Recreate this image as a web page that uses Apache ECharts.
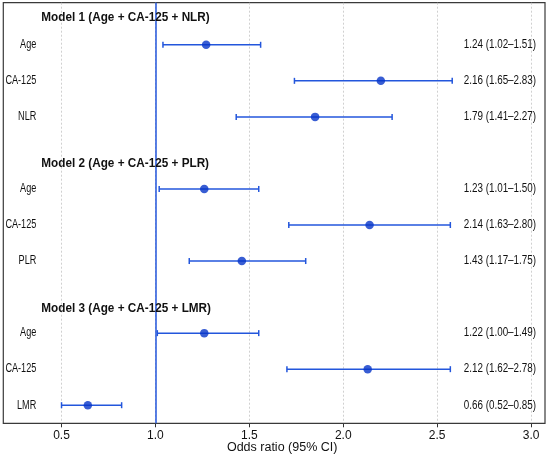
<!DOCTYPE html>
<html>
<head>
<meta charset="utf-8">
<script src="https://cdn.jsdelivr.net/npm/echarts@6/dist/echarts.min.js"></script>
<style>
  html, body { margin: 0; padding: 0; background: #fff; }
  #forest { width: 550px; height: 457px; }
</style>
</head>
<body>
<div id="forest"></div>
<script>
// rows, top to bottom (gaps between models left empty)
var rowNames = ['Age', 'CA-125', 'NLR', 'Age', 'CA-125', 'PLR', 'Age', 'CA-125', 'LMR'];
var rowPos = [0, 1, 2, 4, 5, 6, 8, 9, 10];

// odds ratio and CI as drawn in the picture
var orValues = [1.27, 2.20, 1.85, 1.26, 2.14, 1.46, 1.26, 2.13, 0.64];
var ciLow = [1.04, 1.74, 1.43, 1.02, 1.71, 1.18, 1.01, 1.70, 0.50];
var ciHigh = [1.56, 2.58, 2.26, 1.55, 2.57, 1.80, 1.55, 2.57, 0.82];

// printed OR text on the right
var orText = ['1.24 (1.02\u20131.51)', '2.16 (1.65\u20132.83)', '1.79 (1.41\u20132.27)',
              '1.23 (1.01\u20131.50)', '2.14 (1.63\u20132.80)', '1.43 (1.17\u20131.75)',
              '1.22 (1.00\u20131.49)', '2.12 (1.62\u20132.78)', '0.66 (0.52\u20130.85)'];

var modelTitles = ['Model 1 (Age + CA-125 + NLR)', 'Model 2 (Age + CA-125 + PLR)', 'Model 3 (Age + CA-125 + LMR)'];
var modelPos = [-0.76, 3.3, 7.3];

var xTicks = [0.5, 1.0, 1.5, 2.0, 2.5, 3.0];
var refValue = 1.0;

var FONT = "'Liberation Sans', Arial, sans-serif";
var BLUE = '#2356dc';
var DOT = '#0634c8';

var myChart = echarts.init(document.getElementById('forest'));

var barData = rowPos.map(function (p, i) { return [ciLow[i], ciHigh[i], p]; });
var dotData = rowPos.map(function (p, i) { return [orValues[i], p]; });
var labelData = rowPos.map(function (p, i) { return [orValues[i], p, i]; });
var titleData = modelPos.map(function (p, i) { return [refValue, p, i]; });

// narrow text: the picture's lettering is condensed
function narrowText(x, y, text, align, font, sx) {
    return {
        type: 'text', x: x, y: y, scaleX: sx,
        style: { x: 0, y: 0, text: text, align: align, verticalAlign: 'middle', font: font, fill: '#111' }
    };
}

option = {
    animation: false,
    backgroundColor: '#fff',
    grid: {
        left: 3.3,
        right: 5,
        top: 2.7,
        bottom: 33.7,
        outerBoundsMode: 'none',
        containLabel: false,
        show: true,
        borderColor: '#3a3a3a',
        borderWidth: 1.2
    },
    xAxis: {
        type: 'value',
        min: 0.19,
        max: 3.074,
        name: 'Odds ratio (95% CI)',
        nameLocation: 'middle',
        nameGap: 18,
        nameMoveOverlap: false,
        nameTextStyle: { fontFamily: FONT, fontSize: 12.5, color: '#111', padding: [0, 0, 0, 16] },
        axisLine: { show: false, onZero: false },
        axisTick: { show: true, customValues: xTicks, length: 4, lineStyle: { color: '#333' } },
        axisLabel: {
            customValues: xTicks,
            margin: 6,
            fontFamily: FONT,
            fontSize: 12,
            color: '#111',
            formatter: function (v) { return v.toFixed(1); }
        },
        splitLine: { show: true, lineStyle: { color: '#c4c4c4', type: [2, 2], width: 0.8 } }
    },
    yAxis: {
        type: 'value',
        inverse: true,
        min: -1.168,
        max: 10.502,
        show: false
    },
    series: [
        {
            // CI whiskers with caps
            type: 'custom',
            data: barData,
            encode: { x: [0, 1], y: 2 },
            z: 3,
            renderItem: function (params, api) {
                var a = api.coord([api.value(0), api.value(2)]);
                var b = api.coord([api.value(1), api.value(2)]);
                var cap = 3;
                var st = { stroke: BLUE, lineWidth: 1.5 };
                return {
                    type: 'group',
                    children: [
                        { type: 'line', shape: { x1: a[0], y1: a[1], x2: b[0], y2: b[1] }, style: st },
                        { type: 'line', shape: { x1: a[0], y1: a[1] - cap, x2: a[0], y2: a[1] + cap }, style: st },
                        { type: 'line', shape: { x1: b[0], y1: b[1] - cap, x2: b[0], y2: b[1] + cap }, style: st }
                    ]
                };
            }
        },
        {
            type: 'scatter',
            data: dotData,
            symbol: 'circle',
            symbolSize: 8.5,
            z: 4,
            itemStyle: { color: DOT },
            markLine: {
                silent: true,
                symbol: 'none',
                label: { show: false },
                lineStyle: { color: BLUE, width: 1.5, type: 'solid' },
                data: [{ xAxis: refValue }]
            }
        },
        {
            // row names on the left, OR text on the right
            type: 'custom',
            data: labelData,
            encode: { x: 0, y: 1 },
            z: 5,
            clip: false,
            renderItem: function (params, api) {
                var cs = params.coordSys;
                var y = api.coord([api.value(0), api.value(1)])[1];
                var i = api.value(2);
                return {
                    type: 'group',
                    children: [
                        narrowText(cs.x + 33, y, rowNames[i], 'right', '12px ' + FONT, 0.76),
                        narrowText(cs.x + cs.width - 9, y, orText[i], 'right', '12px ' + FONT, 0.82)
                    ]
                };
            }
        },
        {
            // model headers
            type: 'custom',
            data: titleData,
            encode: { x: 0, y: 1 },
            z: 5,
            clip: false,
            renderItem: function (params, api) {
                var cs = params.coordSys;
                var y = api.coord([api.value(0), api.value(1)])[1];
                return narrowText(cs.x + 38, y, modelTitles[api.value(2)], 'left', 'bold 13.5px ' + FONT, 0.87);
            }
        }
    ]
};
myChart.setOption(option);
</script>
</body>
</html>
